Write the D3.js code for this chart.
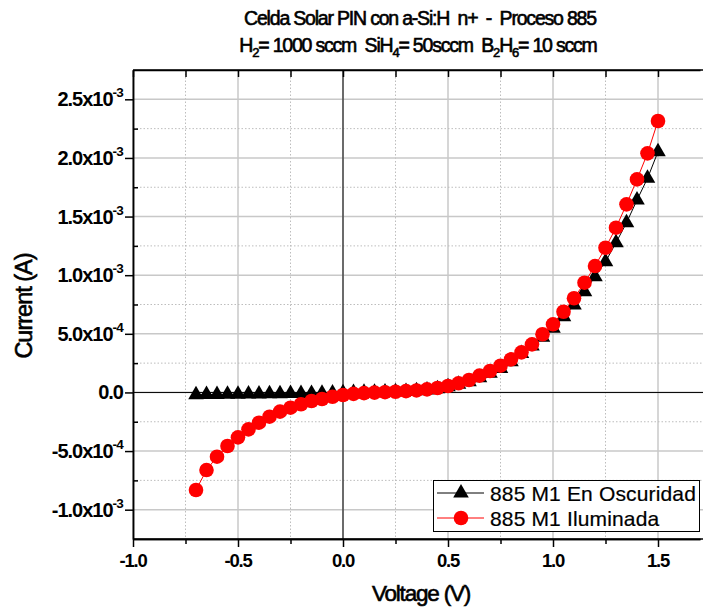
<!DOCTYPE html>
<html><head><meta charset="utf-8">
<script src="https://cdn.jsdelivr.net/npm/d3@7"></script>
<style>
body{margin:0;background:#fff}
svg text{font-family:"Liberation Sans",Arial,sans-serif;fill:#000;white-space:pre}
</style>
</head><body>
<svg id="c" width="705" height="609"></svg>
<script>
// ---- data ----
const voltage = [-0.7,-0.65,-0.6,-0.55,-0.5,-0.45,-0.4,-0.35,-0.3,-0.25,-0.2,-0.15,-0.1,-0.05,0,
  0.05,0.1,0.15,0.2,0.25,0.3,0.35,0.4,0.45,0.5,0.55,0.6,0.65,0.7,0.75,0.8,0.85,0.9,0.95,1.0,
  1.05,1.1,1.15,1.2,1.25,1.3,1.35,1.4,1.45,1.5];
const darkCurrent = [-2.0e-5,-1.8e-5,-1.7e-5,-1.6e-5,-1.5e-5,-1.4e-5,-1.3e-5,-1.2e-5,-1.1e-5,-1.0e-5,
  -0.9e-5,-0.8e-5,-0.6e-5,-0.4e-5,-0.2e-5,0,0.1e-5,0.2e-5,0.4e-5,0.6e-5,0.9e-5,1.4e-5,2.1e-5,3.2e-5,
  4.9e-5,6.9e-5,9.1e-5,12.6e-5,16.3e-5,20.5e-5,26.2e-5,33.3e-5,39.6e-5,47.0e-5,54.7e-5,64.6e-5,
  74.5e-5,85.9e-5,98.7e-5,111.5e-5,127.7e-5,144.7e-5,164.1e-5,182.6e-5,205.3e-5];
const lightCurrent = [-0.832e-3,-0.662e-3,-0.548e-3,-0.457e-3,-0.383e-3,-0.315e-3,-0.258e-3,-0.207e-3,
  -0.164e-3,-0.130e-3,-0.101e-3,-0.073e-3,-0.056e-3,-0.037e-3,-0.022e-3,-0.012e-3,-0.006e-3,-0.002e-3,
  0.002e-3,0.006e-3,0.011e-3,0.017e-3,0.026e-3,0.038e-3,0.055e-3,0.078e-3,0.106e-3,0.143e-3,0.183e-3,
  0.228e-3,0.282e-3,0.342e-3,0.410e-3,0.496e-3,0.581e-3,0.688e-3,0.803e-3,0.936e-3,1.078e-3,1.234e-3,
  1.405e-3,1.604e-3,1.817e-3,2.039e-3,2.315e-3];
const seriesNames = ["885 M1 En Oscuridad","885 M1 Iluminada"];
const xMajorTicks = [-1.0,-0.5,0,0.5,1.0,1.5];
const xMinorTicks = [-0.75,-0.25,0.25,0.75,1.25];
const xTickLabels = ["-1.0","-0.5","0.0","0.5","1.0","1.5"];
const yMajorTicks = [-1e-3,-5e-4,0,5e-4,1e-3,1.5e-3,2e-3,2.5e-3];
const yMinorTicks = [-7.5e-4,-2.5e-4,2.5e-4,7.5e-4,1.25e-3,1.75e-3,2.25e-3];
const yTickMantissa = ["-1.0x10","-5.0x10","0.0","5.0x10","1.0x10","1.5x10","2.0x10","2.5x10"];
const yTickExponent = ["-3","-4","","-4","-3","-3","-3","-3"];

// ---- layout ----
const L=133, R=700, T=70, B=539;
const svg = d3.select("#c");
const x = d3.scaleLinear().domain([-1.0,1.7]).range([L,R]);
const y = d3.scaleLinear().domain([-1.25e-3,2.75e-3]).range([B,T]);

// grid
const grid = svg.append("g");
grid.selectAll(".gxm").data(xMajorTicks).join("line")
  .attr("x1",d=>x(d)).attr("x2",d=>x(d)).attr("y1",T).attr("y2",B)
  .attr("stroke","#c8c8c8").attr("stroke-width",1.5);
grid.selectAll(".gxn").data(xMinorTicks).join("line")
  .attr("x1",d=>x(d)).attr("x2",d=>x(d)).attr("y1",T).attr("y2",B)
  .attr("stroke","#bdbdbd").attr("stroke-width",1).attr("stroke-dasharray","1.5,2");
grid.selectAll(".gym").data(yMajorTicks).join("line")
  .attr("y1",d=>y(d)).attr("y2",d=>y(d)).attr("x1",L).attr("x2",R+3)
  .attr("stroke","#c8c8c8").attr("stroke-width",1.5);
grid.selectAll(".gyn").data(yMinorTicks).join("line")
  .attr("y1",d=>y(d)).attr("y2",d=>y(d)).attr("x1",L).attr("x2",R+3)
  .attr("stroke","#bdbdbd").attr("stroke-width",1).attr("stroke-dasharray","1.5,2");

// zero lines
svg.append("line").attr("x1",x(0)).attr("x2",x(0)).attr("y1",T).attr("y2",B).attr("stroke","#000").attr("stroke-width",1);
svg.append("line").attr("x1",L).attr("x2",R+3).attr("y1",y(0)).attr("y2",y(0)).attr("stroke","#000").attr("stroke-width",1);

// axes (ticks via d3 axes, labels drawn separately)
function styleAxis(g){ g.select(".domain").attr("stroke","#000").attr("stroke-width",1.5);
  g.selectAll(".tick line").attr("stroke","#000").attr("stroke-width",1.5); g.selectAll(".tick text").remove(); }
svg.append("g").attr("transform",`translate(0,${B})`)
  .call(d3.axisBottom(x).tickValues(xMajorTicks).tickSize(8).tickSizeOuter(0).tickFormat("")).call(styleAxis);
svg.append("g").attr("transform",`translate(0,${B})`)
  .call(d3.axisBottom(x).tickValues(xMinorTicks).tickSize(5).tickSizeOuter(0).tickFormat("")).call(styleAxis);
svg.append("g").attr("transform",`translate(0,${T})`)
  .call(d3.axisBottom(x).tickValues(xMajorTicks.concat(xMinorTicks)).tickSize(7).tickSizeOuter(0).tickFormat("")).call(styleAxis);
svg.append("g").attr("transform",`translate(${L},0)`)
  .call(d3.axisLeft(y).tickValues(yMajorTicks).tickSize(8).tickSizeOuter(0).tickFormat("")).call(styleAxis);
svg.append("g").attr("transform",`translate(${L},0)`)
  .call(d3.axisRight(y).tickValues(yMinorTicks).tickSize(5).tickSizeOuter(0).tickFormat("")).call(styleAxis);
svg.append("line").attr("x1",L).attr("x2",R+3).attr("y1",T).attr("y2",T).attr("stroke","#000").attr("stroke-width",1.5);
svg.append("line").attr("x1",L).attr("x2",R+3).attr("y1",B).attr("y2",B).attr("stroke","#000").attr("stroke-width",1.5);

// tick labels
svg.append("g").selectAll("text").data(xMajorTicks).join("text")
  .attr("x",d=>x(d)).attr("y",B+28).attr("text-anchor","middle")
  .attr("font-size",18.5).attr("letter-spacing",-1.2).attr("font-weight","bold")
  .text((d,i)=>xTickLabels[i]);
const yl = svg.append("g").selectAll("text").data(yMajorTicks).join("text")
  .attr("x",L-10).attr("y",d=>y(d)+7).attr("text-anchor","end")
  .attr("font-size",20).attr("letter-spacing",-1).attr("font-weight","bold");
yl.each(function(d,i){
  const t=d3.select(this);
  t.append("tspan").text(yTickMantissa[i]);
  if(yTickExponent[i]) t.append("tspan").attr("font-size",13.5).attr("dy",-9).attr("letter-spacing",-0.8).text(yTickExponent[i]);
});

// axis titles
svg.append("text").attr("x",421).attr("y",601).attr("text-anchor","middle")
  .attr("font-size",22.5).attr("letter-spacing",-1.2).attr("stroke","#000").attr("stroke-width",0.6).text("Voltage (V)");
svg.append("text").attr("transform","translate(32,306) rotate(-90)").attr("text-anchor","middle")
  .attr("font-size",23.5).attr("letter-spacing",-1).attr("stroke","#000").attr("stroke-width",0.6).text("Current (A)");

// title
svg.append("text").attr("x",420).attr("y",25).attr("text-anchor","middle")
  .attr("font-size",19.5).attr("letter-spacing",-1.2).attr("stroke","#000").attr("stroke-width",0.6)
  .text("Celda Solar PIN con a-Si:H  n+  -  Proceso 885");
const t2 = svg.append("text").attr("x",418).attr("y",52).attr("text-anchor","middle")
  .attr("font-size",19.5).attr("letter-spacing",-1.2).attr("stroke","#000").attr("stroke-width",0.6);
const parts = [["H",0],["2",1],["= 1000 sccm  SiH",0],["4",1],["= 50sccm  B",0],["2",1],["H",0],["6",1],["= 10 sccm",0]];
let sub=false;
parts.forEach(([s,isSub])=>{
  const ts=t2.append("tspan").text(s);
  if(isSub && !sub){ts.attr("dy",5).attr("font-size",13); sub=true;}
  else if(isSub){ts.attr("font-size",13);}
  else if(!isSub && sub){ts.attr("dy",-5); sub=false;}
});

// series
const plot = svg.append("g");
const line = d3.line().x(d=>x(d[0])).y(d=>y(d[1]));
const darkPts = voltage.map((v,i)=>[v,darkCurrent[i]]);
const lightPts = voltage.map((v,i)=>[v,lightCurrent[i]]);
plot.append("path").datum(darkPts).attr("d",line).attr("fill","none").attr("stroke","#000").attr("stroke-width",1);
plot.selectAll(".tri").data(darkPts).join("path")
  .attr("transform",d=>`translate(${x(d[0])},${y(d[1])})`)
  .attr("d",d3.symbol(d3.symbolTriangle,105)).attr("fill","#000");
plot.append("path").datum(lightPts).attr("d",line).attr("fill","none").attr("stroke","#ff0000").attr("stroke-width",1);
plot.selectAll(".cir").data(lightPts).join("circle")
  .attr("cx",d=>x(d[0])).attr("cy",d=>y(d[1])).attr("r",7.3).attr("fill","#ff0000");

// legend
const lg = svg.append("g");
lg.append("rect").attr("x",433.5).attr("y",480.5).attr("width",266).attr("height",51)
  .attr("fill","#fff").attr("stroke","#000").attr("stroke-width",1);
const legendRows=[{y:493,color:"#000",sym:"tri"},{y:518,color:"#ff0000",sym:"cir"}];
legendRows.forEach((r,i)=>{
  lg.append("line").attr("x1",437).attr("x2",484).attr("y1",r.y).attr("y2",r.y).attr("stroke",r.color).attr("stroke-width",1);
  if(r.sym==="tri") lg.append("path").attr("transform",`translate(461,${r.y})`).attr("d",d3.symbol(d3.symbolTriangle,105)).attr("fill","#000");
  else lg.append("circle").attr("cx",461).attr("cy",r.y).attr("r",7.3).attr("fill","#ff0000");
  lg.append("text").attr("x",490).attr("y",r.y+7.5).attr("font-size",21).attr("letter-spacing",0.15)
    .attr("stroke","#000").attr("stroke-width",0.2).text(seriesNames[i]);
});
</script>
</body></html>
